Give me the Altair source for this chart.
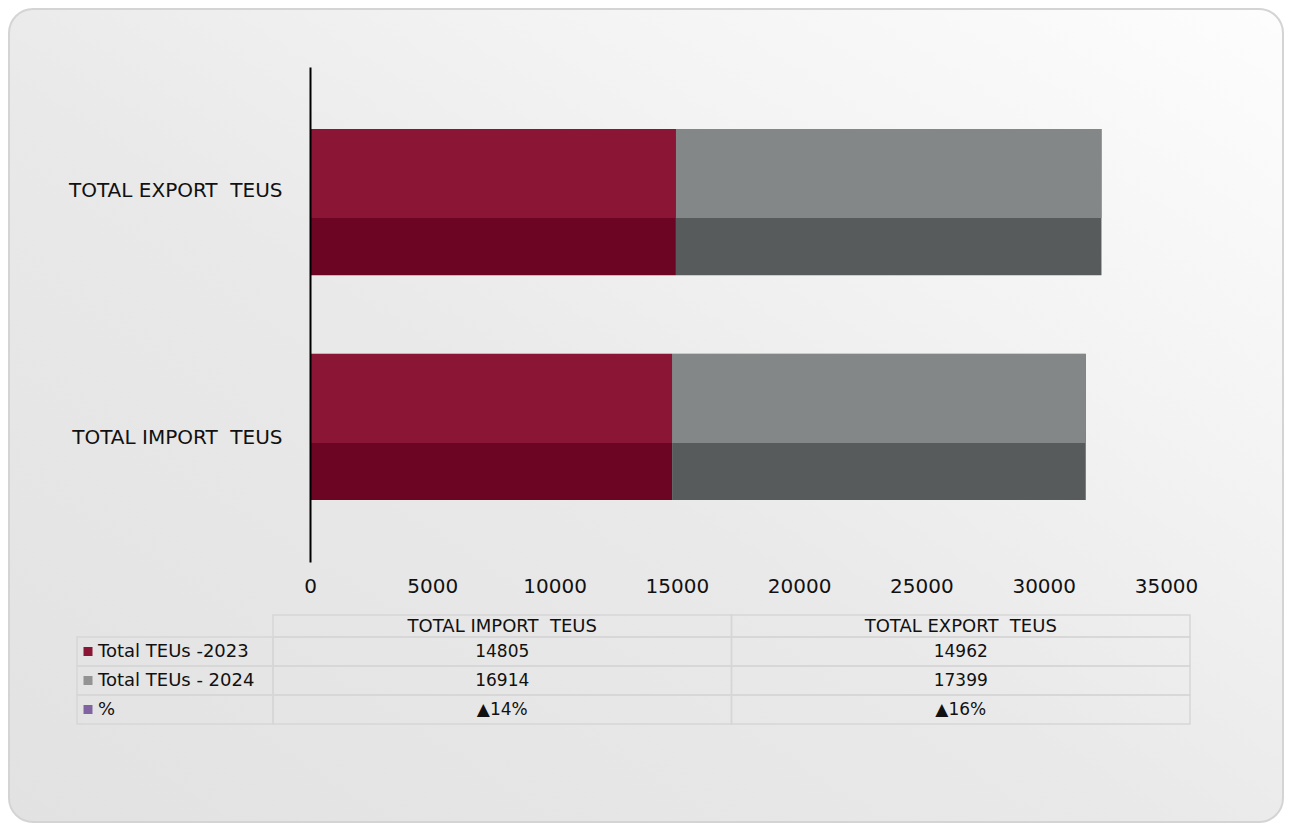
import altair as alt
import pandas as pd

# ---------------- data ----------------
categories = ["TOTAL EXPORT\u00a0 TEUS", "TOTAL IMPORT\u00a0 TEUS"]          # bar order, top to bottom
table_columns = ["TOTAL IMPORT\u00a0 TEUS", "TOTAL EXPORT\u00a0 TEUS"]       # table column order
series_names = ["Total TEUs -2023", "Total TEUs - 2024"]
row_names = ["Total TEUs -2023", "Total TEUs - 2024", "%"]
import_teus = [14805, 16914]      # 2023, 2024
export_teus = [14962, 17399]      # 2023, 2024
pct_labels = ["▲14%", "▲16%"]     # import, export
x_ticks = [0, 5000, 10000, 15000, 20000, 25000, 30000, 35000]

# colours
light_colors = ["#8B1535", "#848788"]
dark_colors = ["#6C0524", "#575B5C"]
key_colors = ["#8B1535", "#939393", "#8064A2"]
FONT = "DejaVu Sans"
GRID = "#D6D6D6"

# ---------------- tables built from the lists ----------------
bar_rows = []
for cat, vals in ((table_columns[0], import_teus), (table_columns[1], export_teus)):
    for i, (s, v) in enumerate(zip(series_names, vals)):
        bar_rows.append({"category": cat, "series": s, "value": v, "order": i})
bars_df = pd.DataFrame(bar_rows)

cell_rows = []
for col, vals, pct in ((table_columns[0], import_teus, pct_labels[0]),
                       (table_columns[1], export_teus, pct_labels[1])):
    cell_rows.append({"col": col, "row": row_names[0], "text": str(vals[0])})
    cell_rows.append({"col": col, "row": row_names[1], "text": str(vals[1])})
    cell_rows.append({"col": col, "row": row_names[2], "text": pct})
cells_df = pd.DataFrame(cell_rows)
header_df = pd.DataFrame({"col": table_columns})
rowlab_df = pd.DataFrame({"row": row_names})
bg_df = pd.DataFrame({"k": [0]})

# ---------------- scales ----------------
x_scale = alt.Scale(domain=[0, 35000], nice=False, zero=True)
y_scale = alt.Scale(domain=categories, paddingInner=0.35, paddingOuter=0.276)
col_scale = alt.Scale(domain=table_columns, range=[-37, 880], paddingInner=0, paddingOuter=0)
row_scale = alt.Scale(domain=row_names, range=[570, 657], paddingInner=0, paddingOuter=0)

# ---------------- background card ----------------
bg = alt.Chart(bg_df).mark_rect(
    cornerRadius=24,
    stroke="#D4D4D4",
    strokeWidth=2,
    fill=alt.LinearGradient(
        gradient="linear",
        x1=0, y1=1, x2=1, y2=0,
        stops=[
            alt.GradientStop(color="#E2E2E2", offset=0),
            alt.GradientStop(color="#E9E9E9", offset=0.45),
            alt.GradientStop(color="#F3F3F3", offset=0.7),
            alt.GradientStop(color="#FDFDFD", offset=1),
        ],
    ),
).encode(
    x=alt.value(-301), x2=alt.value(973), y=alt.value(-58), y2=alt.value(755)
)

# ---------------- bars ----------------
x_enc = alt.X(
    "value:Q", stack="zero", scale=x_scale,
    axis=alt.Axis(
        values=x_ticks, title=None, grid=False, domain=False, ticks=False, tickSize=0,
        labelFont=FONT, labelFontSize=20, labelColor="#111111", labelPadding=14,
        format="d", labelFlush=False, zindex=2,
    ),
)
y_enc = alt.Y(
    "category:N", scale=y_scale, sort=categories,
    axis=alt.Axis(
        title=None, grid=False, ticks=False, tickSize=0, domain=True,
        domainColor="#000000", domainWidth=2,
        labelFont=FONT, labelFontSize=20, labelColor="#111111", labelPadding=28,
        labelOffset={"condition": {"test": "datum.index == 0", "value": -11}, "value": 11},
        labelLimit=400, zindex=2,
    ),
)

dark = alt.Chart(bars_df).mark_bar().encode(
    x=x_enc,
    y=y_enc,
    color=alt.Color("series:N", scale=alt.Scale(domain=series_names, range=dark_colors), legend=None),
    order=alt.Order("order:Q"),
)

light = alt.Chart(bars_df).mark_bar(size=89, yOffset=-28.5).encode(
    x=x_enc,
    y=y_enc,
    fill=alt.Fill("series:N", scale=alt.Scale(domain=series_names, range=light_colors), legend=None),
    order=alt.Order("order:Q"),
)

bars = alt.layer(dark, light).resolve_scale(color="independent")

# ---------------- data table ----------------
header_cells = alt.Chart(header_df).mark_rect(fill="transparent", stroke=GRID, strokeWidth=1.5).encode(
    x=alt.X("col:N", scale=col_scale, axis=None),
    y=alt.value(548), y2=alt.value(570),
)
header_text = alt.Chart(header_df).mark_text(
    font=FONT, fontSize=18, color="#111111", baseline="middle"
).encode(
    x=alt.X("col:N", scale=col_scale, axis=None),
    y=alt.value(560),
    text="col:N",
)
body_cells = alt.Chart(cells_df).mark_rect(fill="transparent", stroke=GRID, strokeWidth=1.5).encode(
    x=alt.X("col:N", scale=col_scale, axis=None),
    y=alt.Y("row:N", scale=row_scale, axis=None),
)
label_cells = alt.Chart(rowlab_df).mark_rect(fill="transparent", stroke=GRID, strokeWidth=1.5).encode(
    x=alt.value(-233), x2=alt.value(-37),
    y=alt.Y("row:N", scale=row_scale, axis=None),
)
key_squares = alt.Chart(rowlab_df).mark_square(size=81, opacity=1).encode(
    x=alt.value(-222),
    y=alt.Y("row:N", scale=row_scale, axis=None),
    color=alt.Color("row:N", scale=alt.Scale(domain=row_names, range=key_colors), legend=None),
)
label_text = alt.Chart(rowlab_df).mark_text(
    font=FONT, fontSize=18, color="#111111", align="left", baseline="middle"
).encode(
    x=alt.value(-212),
    y=alt.Y("row:N", scale=row_scale, axis=None),
    text="row:N",
)
value_text = alt.Chart(cells_df).mark_text(
    font=FONT, fontSize=17, color="#111111", baseline="middle"
).encode(
    x=alt.X("col:N", scale=col_scale, axis=None),
    y=alt.Y("row:N", scale=row_scale, axis=None),
    text="text:N",
)

chart = alt.layer(
    bg, bars,
    header_cells, header_text, body_cells, label_cells, key_squares, label_text, value_text,
).resolve_scale(
    x="independent", y="independent", color="independent"
).properties(
    width=856,
    height=495,
    padding={"left": 302, "top": 59, "right": 118, "bottom": 261},
    autosize=alt.AutoSizeParams(type="none"),
    background="white",
).configure_view(stroke=None)

chart.save("out.html", embed_options={"renderer": "svg", "actions": False})
